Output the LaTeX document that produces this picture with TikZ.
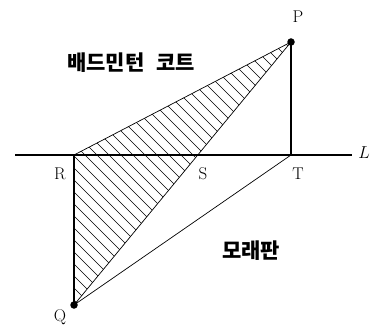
\documentclass[tikz,border=0pt]{standalone}
\usepackage{fontspec}
\newfontfamily\krfont{Noto Sans CJK KR}
\usetikzlibrary{positioning,calc}

\begin{document}
\begin{tikzpicture}[
  x=1pt, y=1pt,
  edge/.style={line width=1.4pt},
  thin edge/.style={line width=0.7pt},
  hatch/.style={line width=0.6pt},
  lbl/.style={font=\fontsize{17}{17}\selectfont, inner sep=0pt},
  kr/.style={font=\krfont\bfseries\fontsize{21}{21}\selectfont, inner sep=0pt},
  dot/.style={circle, fill, inner sep=0pt, minimum size=7.5pt}
]
\useasboundingbox (0,0) rectangle (379,326);
% points
\coordinate (P) at (291,284);
\coordinate (T) at (291,171);
\coordinate (R) at (74,171);
\coordinate (Q) at (74,21);
\coordinate (Lw) at (15,171);
\coordinate (Le) at (352,171);
\coordinate (S) at ($(P)!{(284-171)/(284-21)}!(Q)$);
% hatched region
\begin{scope}
  \clip (R) -- (P) -- (Q) -- cycle;
  \foreach \c in {100,112,...,580}
    \draw[hatch] ({\c-300},300) -- (\c,0);
\end{scope}
% lines
\draw[edge] (Lw) -- (Le);
\draw[edge] (R) -- (Q);
\draw[edge] (P) -- (T);
\draw[thin edge] (R) -- (P) -- (Q) -- (T);
\node[dot] (Pd) at (P) {};
\node[dot] (Qd) at (Q) {};
% labels
\node[lbl] (Plbl) at (298,309) {P};
\node[lbl] (Rlbl) at (60,152) {R};
\node[lbl] (Slbl) at (203,152) {S};
\node[lbl] (Tlbl) at (298,152) {T};
\node[lbl] (Qlbl) at (60,9) {Q};
\node[lbl] (Llbl) at (364,173) {$L$};
\node[kr] (court) at (131,263) {배드민턴\hspace{12pt}코트};
\node[kr] (sand) at (251,75) {모래판};
\end{tikzpicture}
\end{document}
